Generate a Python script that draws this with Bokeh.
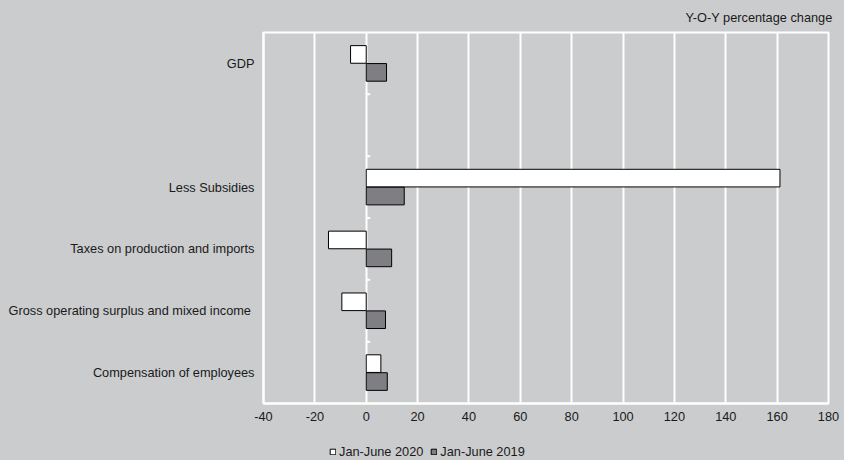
from bokeh.plotting import figure
from bokeh.models import ColumnDataSource, Range1d, FactorRange, Legend, LegendItem, FixedTicker
from bokeh.layouts import column
from bokeh.transform import dodge
from bokeh.embed import file_html
from bokeh.resources import INLINE

categories = ["GDP", "Less Subsidies", "Taxes on production and imports",
              "Gross operating surplus and mixed income ", "Compensation of employees"]
jan_june_2020 = [-6.1, 161.1, -14.7, -9.5, 5.7]
jan_june_2019 = [7.9, 14.8, 9.9, 7.5, 8.2]
axis_factors = ["Compensation of employees", "Gross operating surplus and mixed income ",
                "Taxes on production and imports", "Less Subsidies", " ", "GDP"]
x_ticks = [-40, -20, 0, 20, 40, 60, 80, 100, 120, 140, 160, 180]
series_names = ["Jan-June 2020", "Jan-June 2019"]

BG = "#cbccce"
FONT = "Liberation Sans"
FS = "12.75px"
TXT = "#1a1a1a"
C2020 = "white"
C2019 = "#7f7f83"

src = ColumnDataSource(dict(cat=categories, v20=jan_june_2020, v19=jan_june_2019))
sep_src = ColumnDataSource(dict(cat=axis_factors[1:], x=[0] * (len(axis_factors) - 1)))

p = figure(width=844, height=440, output_backend="svg", toolbar_location=None,
           x_range=Range1d(x_ticks[0], x_ticks[-1]),
           y_range=FactorRange(factors=axis_factors, range_padding=0),
           min_border_left=263, min_border_right=16, min_border_top=31, min_border_bottom=37)

p.background_fill_color = BG
p.border_fill_color = BG
p.outline_line_color = "white"
p.outline_line_width = 2

r20 = p.hbar(y=dodge("cat", 0.145, range=p.y_range), right="v20", left=0, height=0.285,
             source=src, fill_color=C2020, line_color="black", line_width=1)
r19 = p.hbar(y=dodge("cat", -0.145, range=p.y_range), right="v19", left=0, height=0.285,
             source=src, fill_color=C2019, line_color="black", line_width=1)

p.ray(x="x", y=dodge("cat", -0.5, range=p.y_range), length=4, length_units="screen",
      angle=0, source=sep_src, line_color="white", line_width=2)

p.xaxis.ticker = FixedTicker(ticks=x_ticks)
p.xaxis.major_label_overrides = {t: str(t) for t in x_ticks}
p.xaxis.axis_line_color = "white"
p.xaxis.axis_line_width = 2
p.xaxis.major_tick_line_color = None
p.xaxis.major_tick_out = 0
p.xaxis.major_tick_in = 0
p.xaxis.minor_tick_line_color = None
p.xaxis.major_label_text_font = FONT
p.xaxis.major_label_text_font_size = FS
p.xaxis.major_label_text_color = TXT
p.xaxis.major_label_standoff = 8

p.yaxis.axis_line_color = "white"
p.yaxis.axis_line_width = 2
p.yaxis.major_tick_line_color = None
p.yaxis.major_tick_out = 0
p.yaxis.major_tick_in = 0
p.yaxis.minor_tick_line_color = None
p.yaxis.major_label_text_font = FONT
p.yaxis.major_label_text_font_size = FS
p.yaxis.major_label_text_color = TXT
p.yaxis.major_label_standoff = 9

p.xgrid.grid_line_color = "white"
p.xgrid.grid_line_width = 2
p.ygrid.grid_line_color = None

p.title.text = "Y-O-Y percentage change"
p.title.align = "right"
p.title.text_font = FONT
p.title.text_font_size = FS
p.title.text_font_style = "normal"
p.title.text_color = TXT
p.title.offset = -4
p.title.standoff = 15

# legend strip below the chart (its frame is aligned with the chart's frame)
lf = figure(width=844, height=20, output_backend="svg", toolbar_location=None,
            x_axis_type=None, y_axis_type=None, x_range=Range1d(0, 1), y_range=Range1d(0, 1),
            min_border_left=0, min_border_right=0, min_border_top=0, min_border_bottom=0)
lf.background_fill_color = BG
lf.border_fill_color = BG
lf.outline_line_color = None
lf.xgrid.visible = False
lf.ygrid.visible = False
k20 = lf.hbar(y=0, left=0, right="v20", height=1, source=src, visible=False,
              fill_color=C2020, line_color="black", line_width=1)
k19 = lf.hbar(y=0, left=0, right="v19", height=1, source=src, visible=False,
              fill_color=C2019, line_color="black", line_width=1)
legend = Legend(items=[LegendItem(label=series_names[0], renderers=[k20]),
                       LegendItem(label=series_names[1], renderers=[k19])],
                orientation="horizontal", location=(66, 1),
                background_fill_alpha=0, border_line_color=None,
                label_text_font=FONT, label_text_font_size=FS, label_text_color=TXT,
                glyph_width=7, glyph_height=7, label_standoff=3, spacing=7,
                padding=0, margin=0, label_height=14)
lf.add_layout(legend, "center")

layout = column(p, lf, spacing=0, styles={"background-color": BG})
open("out.html", "w").write(file_html(layout, INLINE))
